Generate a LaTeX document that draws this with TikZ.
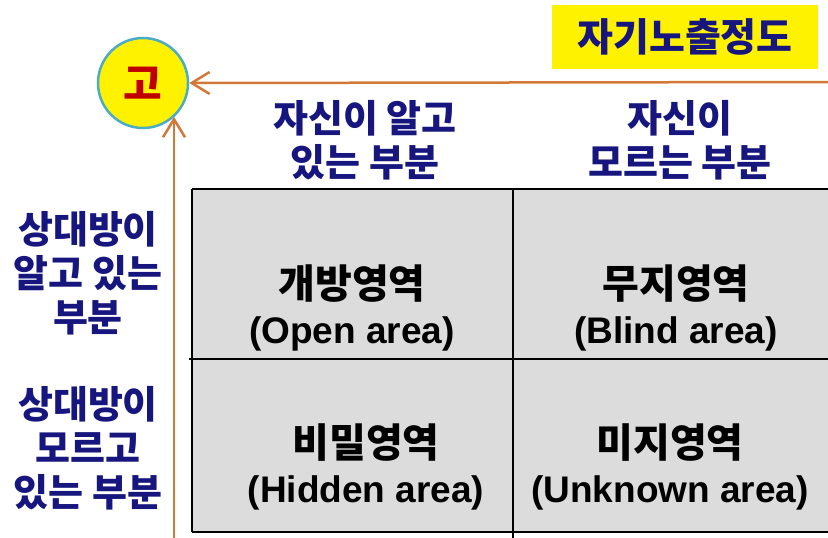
\documentclass[tikz,border=0pt]{standalone}
\usepackage{fontspec}
\setmainfont{Liberation Sans}
\newfontfamily\kr{Noto Sans CJK KR}
\usetikzlibrary{arrows.meta}
\definecolor{navy}{HTML}{16167E}
\definecolor{arrowor}{HTML}{D2793A}
\definecolor{cellgray}{HTML}{DCDCDC}
\definecolor{ringblue}{HTML}{4BACC6}
\definecolor{darkred}{HTML}{C00000}
\tikzset{
  hdr/.style={font=\kr\bfseries\fontsize{38}{44}\selectfont, text=navy, align=center, inner sep=0pt},
  cell/.style={font=\bfseries\fontsize{37}{45}\selectfont, text=black, align=center, inner sep=0pt},
  krcell/.style={},
  axis/.style={draw=arrowor, line width=2.5pt, -{Straight Barb[length=18pt,width=22pt,line width=2.5pt]}},
  grid/.style={draw=black, line width=2pt}
}
\newcommand{\krc}[1]{{\kr\fontsize{40}{45}\selectfont #1}}
\begin{document}
\begin{tikzpicture}[x=1pt,y=-1pt]
\useasboundingbox (0,0) rectangle (828,538);
% yellow title box
\node[fill=yellow, minimum width=266pt, minimum height=64pt, inner sep=0pt,
      font=\kr\bfseries\fontsize{39}{40}\selectfont, text=navy] (title) at (685,37) {자기노출정도};
% grid
\fill[cellgray] (192,189) rectangle (828,532);
\draw[grid] (192,189) -- (828,189);
\draw[grid] (189,359) -- (828,359);
\draw[grid] (192,532) -- (828,532);
\draw[grid] (192,189) -- (192,532);
\draw[grid] (513,189) -- (513,538);
% circle
\node[circle, fill=yellow, draw=ringblue, line width=2.5pt, minimum size=90pt, inner sep=0pt,
      font=\kr\bfseries\fontsize{42}{42}\selectfont, text=darkred] (circ) at (143,83) {고};
% arrows
\coordinate (hstart) at (828,82);
\coordinate (vstart) at (174,540);
\draw[axis] (hstart) -- (circ.east);
\draw[axis] (vstart) -- (vstart |- circ.-47.6);
% headers
\node[hdr] (h1) at (365,140) {자신이 알고\\있는 부분};
\node[hdr] (h2) at (680,140) {자신이\\모르는 부분};
\node[hdr] (r1) at (88,273) {상대방이\\알고 있는\\부분};
\node[hdr] (r2) at (88,448) {상대방이\\모르고\\있는 부분};
% cells
\node[cell] (c11) at (352,308) {\krc{개방영역}\\(Open area)};
\node[cell] (c12) at (676,308) {\krc{무지영역}\\(Blind area)};
\node[cell] (c21) at (366,467) {\krc{비밀영역}\\(Hidden area)};
\node[cell] (c22) at (670,467) {\krc{미지영역}\\(Unknown area)};
\end{tikzpicture}
\end{document}
